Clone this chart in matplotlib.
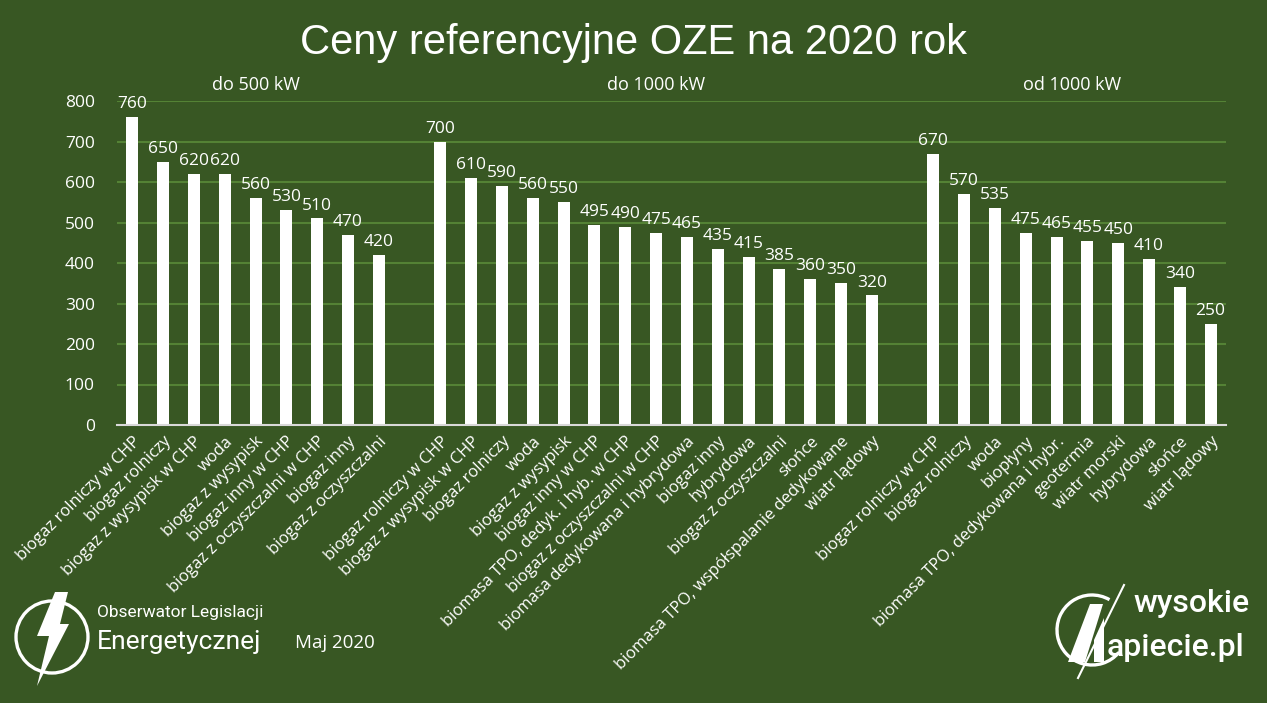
import numpy as np
import matplotlib
matplotlib.use("Agg")
import matplotlib.pyplot as plt
from matplotlib.patches import Circle, Arc, Polygon

# data
labels_500 = ["biogaz rolniczy w CHP", "biogaz rolniczy", "biogaz z wysypisk w CHP", "woda",
              "biogaz z wysypisk", "biogaz inny w CHP", "biogaz z oczyszczalni w CHP",
              "biogaz inny", "biogaz z oczyszczalni"]
values_500 = [760, 650, 620, 620, 560, 530, 510, 470, 420]

labels_1000 = ["biogaz rolniczy w CHP", "biogaz z wysypisk w CHP", "biogaz rolniczy", "woda",
               "biogaz z wysypisk", "biogaz inny w CHP", "biomasa TPO, dedyk. i hyb. w CHP",
               "biogaz z oczyszczalni w CHP", "biomasa dedykowana i hybrydowa", "biogaz inny",
               "hybrydowa", "biogaz z oczyszczalni", "słońce",
               "biomasa TPO, współspalanie dedykowane", "wiatr lądowy"]
values_1000 = [700, 610, 590, 560, 550, 495, 490, 475, 465, 435, 415, 385, 360, 350, 320]

labels_over = ["biogaz rolniczy w CHP", "biogaz rolniczy", "woda", "biopłyny",
               "biomasa TPO, dedykowana i hybr.", "geotermia", "wiatr morski", "hybrydowa",
               "słońce", "wiatr lądowy"]
values_over = [670, 570, 535, 475, 465, 455, 450, 410, 340, 250]

group_titles = ["do 500 kW", "do 1000 kW", "od 1000 kW"]
y_ticks = [0, 100, 200, 300, 400, 500, 600, 700, 800]

BG = "#385723"
GRID = "#548235"
W, H = 1267, 703

# one empty slot between groups
labels = labels_500 + [""] + labels_1000 + [""] + labels_over
values = values_500 + [np.nan] + values_1000 + [np.nan] + values_over
x = np.arange(len(labels))

fig = plt.figure(figsize=(W / 100, H / 100), dpi=100, facecolor=BG)
ax = fig.add_axes([117 / W, 1 - 425 / H, (1226 - 117) / W, (425 - 101) / H])
ax.set_facecolor(BG)

ax.bar(x, values, width=0.39, color="white", zorder=3)
ax.set_xlim(-0.5, len(labels) - 0.5)
ax.set_ylim(0, 800)
ax.set_yticks(y_ticks)
ax.grid(axis="y", color=GRID, linewidth=1.5, zorder=0)
for s in ["top", "right", "left"]:
    ax.spines[s].set_visible(False)
ax.spines["bottom"].set_color("#d9d9d9")
ax.spines["bottom"].set_linewidth(1.5)
ax.spines["bottom"].set_zorder(4)
ax.tick_params(length=0, colors="white", labelsize=12.5)
ax.tick_params(axis="y", pad=16)
for t in ax.get_yticklabels():
    t.set_fontfamily("Open Sans")

ax.set_xticks(x)
ax.set_xticklabels(labels, rotation=45, ha="right", rotation_mode="anchor",
                   fontsize=12, fontfamily="Open Sans", color="white")
ax.tick_params(axis="x", pad=6)

for xi, v in zip(x, values):
    if not np.isnan(v):
        ax.text(xi, v + 12, f"{v:.0f}", ha="center", va="bottom", color="white",
                fontsize=12.5, fontfamily="Open Sans", zorder=5)

# group headers, centred over each group
starts = [0, len(labels_500) + 1, len(labels_500) + len(labels_1000) + 2]
sizes = [len(labels_500), len(labels_1000), len(labels_over)]
for st, n, t in zip(starts, sizes, group_titles):
    ax.text(st + (n - 1) / 2, 818, t, ha="center", va="bottom", color="white",
            fontsize=13, fontfamily="Open Sans", clip_on=False)

fig.text(0.5, 1 - 43 / H, "Ceny referencyjne OZE na 2020 rok", ha="center", va="center",
         color="white", fontsize=30, fontfamily="Liberation Sans")

# footer logos in pixel coordinates
ov = fig.add_axes([0, 0, 1, 1], zorder=-1)
ov.set_xlim(0, W)
ov.set_ylim(0, H)
ov.axis("off")
ov.patch.set_alpha(0)

def py(y):
    return H - y

ov.add_patch(Circle((52, py(637)), 36, fill=False, edgecolor="white", linewidth=2.4))
ov.add_patch(Polygon([(55, py(592)), (68, py(592)), (60, py(624)), (69, py(624)),
                      (37, py(686)), (49, py(636)), (37, py(636))],
                     closed=True, facecolor="white", edgecolor="none"))
fig.text(97 / W, 1 - 612 / H, "Obserwator Legislacji", ha="left", va="center",
         color="white", fontsize=12.5, fontfamily="Roboto")
fig.text(97 / W, 1 - 642 / H, "Energetycznej", ha="left", va="center",
         color="white", fontsize=19, fontfamily="Roboto")
fig.text(295 / W, 1 - 643 / H, "Maj 2020", ha="left", va="center",
         color="white", fontsize=13.5, fontfamily="Open Sans")

ov.add_patch(Arc((1092, py(630)), 70, 70, theta1=60, theta2=320, color="white", linewidth=2.4))
ov.add_patch(Polygon([(1068, py(662)), (1090, py(604)), (1103, py(604)), (1085, py(662))],
                     closed=True, facecolor="white", edgecolor="none"))
ov.add_patch(Polygon([(1094, py(640)), (1104, py(618)), (1104, py(662)), (1094, py(662))],
                     closed=True, facecolor="white", edgecolor="none"))
ov.plot([1078, 1124], [py(678), py(585)], color="white", linewidth=1.5)
fig.text(1133 / W, 1 - 604 / H, "wysokie", ha="left", va="center",
         color="white", fontsize=23, fontfamily="Roboto", fontweight="medium")
fig.text(1107 / W, 1 - 647 / H, "apiecie.pl", ha="left", va="center",
         color="white", fontsize=23, fontfamily="Roboto", fontweight="medium")

fig.savefig("out.png", dpi=100, facecolor=BG)
